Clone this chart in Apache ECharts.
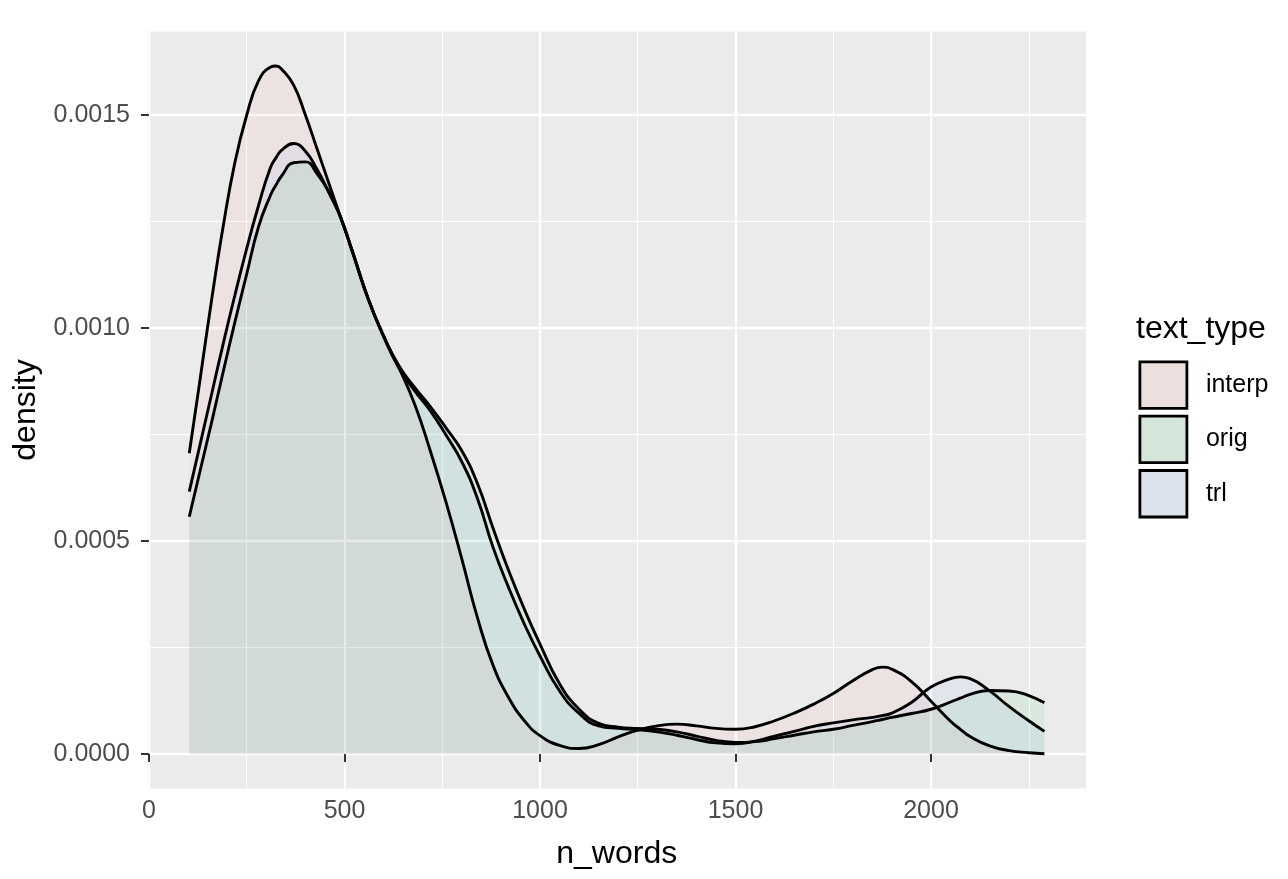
<!DOCTYPE html>
<html><head><meta charset="utf-8">
<script src="https://cdn.jsdelivr.net/npm/echarts@6/dist/echarts.min.js"></script>
<style>html,body{margin:0;padding:0;background:#fff}#c{width:1288px;height:879px}</style>
</head><body><div id="c"></div>
<script>
// ---- data ----
const nWords = [103,130,160,190,220,250,280,310,325,340,370,400,430,460,490,520,560,600,640,680,720,760,800,840,880,920,960,1000,1050,1100,1150,1200,1250,1300,1350,1400,1450,1500,1550,1600,1650,1700,1750,1800,1850,1875,1900,1950,2000,2050,2075,2100,2150,2200,2250,2290];
const interpDensity = [0.000706,0.000875,0.001065,0.00124,0.00139,0.0015,0.00158,0.001612,0.001615,0.001607,0.00157,0.0015,0.00142,0.00134,0.00126,0.00118,0.00107,0.00098,0.000905,0.00082,0.00071,0.00059,0.000458,0.00032,0.000208,0.000132,0.000078,0.000043,0.00002,0.000013,0.000022,0.00004,0.000056,0.000066,0.00007,0.000066,0.00006,0.000058,0.000064,0.000078,0.000096,0.000117,0.000142,0.000172,0.000198,0.000204,0.000199,0.00017,0.000124,0.000077,0.000058,0.000041,0.000019,0.000008,0.000003,0.0000005];
const origDensity = [0.000557,0.000662,0.000778,0.000898,0.001015,0.001127,0.001237,0.00131,0.001336,0.001358,0.001388,0.00139,0.001362,0.00132,0.00126,0.00118,0.00107,0.000982,0.00091,0.00086,0.000815,0.000765,0.000712,0.000635,0.00053,0.00043,0.00034,0.000258,0.000165,0.000105,0.000072,0.000063,0.00006,0.000058,0.000052,0.000042,0.000032,0.000027,0.000029,0.000036,0.000044,0.000052,0.000058,0.000067,0.000076,0.000081,0.000086,0.000095,0.000105,0.000122,0.000131,0.00014,0.000149,0.000148,0.000137,0.00012];
const trlDensity = [0.000616,0.000724,0.000844,0.000964,0.001078,0.001187,0.001287,0.001375,0.0014,0.001418,0.001433,0.001415,0.001372,0.001318,0.00126,0.00118,0.00107,0.00098,0.000905,0.000852,0.000805,0.000748,0.000686,0.0006,0.000485,0.00039,0.000305,0.00023,0.000148,0.000095,0.000066,0.00006,0.000057,0.000052,0.000044,0.000034,0.000026,0.000024,0.00003,0.000042,0.000053,0.000065,0.000073,0.00008,0.000086,0.00009,0.000096,0.000121,0.000157,0.000177,0.000181,0.000177,0.000148,0.000111,0.000078,0.000053];
const groups = ['interp','orig','trl'];
const xMajorTicks = [0,500,1000,1500,2000];
const xMinorTicks = [250,750,1250,1750,2250];
const yMajorTicks = [0,0.0005,0.001,0.0015];
const yMinorTicks = [0.00025,0.00075,0.00125];
const xLimits = [-3.8, 2396.4];
const yLimits = [-0.0000808, 0.0016958];

// ---- styling ----
const FONT = 'Liberation Sans, Arial, sans-serif';
const hues = [[248,118,109],[0,186,56],[97,156,255]];
const ALPHA = 0.1;
const PANEL = [235,235,235];
const rgba = (c,a)=>`rgba(${c[0]},${c[1]},${c[2]},${a})`;
const blend = (c,a,bg)=>`rgb(${c.map((v,i)=>Math.round(a*v+(1-a)*bg[i])).join(',')})`;
const seriesData = [interpDensity, origDensity, trlDensity];

const chart = echarts.init(document.getElementById('c'), null, {renderer:'canvas'});
const gridLeft = 147.5, gridTop = 31.6, gridW = 938.5, gridH = 756.8;

const hiddenAxisBits = {axisLine:{show:false}, axisLabel:{show:false}};
chart.setOption({
  animation:false,
  backgroundColor:'#ffffff',
  title:{text:'text_type', left:1136, top:313, padding:0,
    textStyle:{fontSize:32, fontWeight:'normal', color:'#000', fontFamily:FONT}},
  grid:{left:gridLeft, top:gridTop, width:gridW, height:gridH, show:true,
    backgroundColor:'#EBEBEB', borderWidth:0, containLabel:false, outerBoundsMode:'none'},
  legend:{orient:'vertical', left:1138.5, top:360.5, padding:0,
    itemWidth:47, itemHeight:46.5, itemGap:5, icon:'rect',
    textStyle:{fontSize:25, color:'#000', fontFamily:FONT, padding:[0,0,0,14]},
    selectedMode:false,
    data:groups.map((g,i)=>({name:g, icon:'rect',
      itemStyle:{color:blend(hues[i],ALPHA,PANEL), borderColor:'#000', borderWidth:2.8}}))},
  xAxis:[
    {type:'value', min:xLimits[0], max:xLimits[1], position:'bottom',
     axisLine:{show:false},
     axisTick:{show:true, customValues:xMajorTicks, length:8, lineStyle:{color:'#333333', width:2}},
     axisLabel:{customValues:xMajorTicks, color:'#4D4D4D', fontSize:25, margin:10, fontFamily:FONT,
       formatter:v=>String(v)},
     splitLine:{show:true, lineStyle:{color:'#FFFFFF', width:2.3}},
     name:'n_words', nameLocation:'middle', nameGap:50,
     nameTextStyle:{fontSize:32, color:'#000', fontFamily:FONT}},
    Object.assign({type:'value', min:xLimits[0], max:xLimits[1], position:'bottom',
     axisTick:{show:false, customValues:xMinorTicks},
     splitLine:{show:true, lineStyle:{color:'#FFFFFF', width:1.1}}, z:0}, hiddenAxisBits)
  ],
  yAxis:[
    {type:'value', min:yLimits[0], max:yLimits[1], position:'left',
     axisLine:{show:false},
     axisTick:{show:true, customValues:yMajorTicks, length:8, lineStyle:{color:'#333333', width:2}},
     axisLabel:{customValues:yMajorTicks, color:'#4D4D4D', fontSize:25, margin:17.5, fontFamily:FONT,
       formatter:v=>v.toFixed(4)},
     splitLine:{show:true, lineStyle:{color:'#FFFFFF', width:2.3}},
     name:'density', nameLocation:'middle', nameGap:104, nameRotate:90,
     nameTextStyle:{fontSize:32, color:'#000', fontFamily:FONT}},
    Object.assign({type:'value', min:yLimits[0], max:yLimits[1], position:'left',
     axisTick:{show:false, customValues:yMinorTicks},
     splitLine:{show:true, lineStyle:{color:'#FFFFFF', width:1.1}}, z:0}, hiddenAxisBits)
  ],
  series:groups.map((g,i)=>({
    name:g, type:'line', xAxisIndex:0, yAxisIndex:0,
    data:nWords.map((x,k)=>[x, seriesData[i][k]]),
    smooth:0.5, showSymbol:false, symbol:'none',
    itemStyle:{color:blend(hues[i],ALPHA,PANEL)},
    lineStyle:{color:'#000', width:2.9},
    areaStyle:{color:rgba(hues[i],ALPHA), origin:'auto'},
    z:2
  }))
});
</script></body></html>
